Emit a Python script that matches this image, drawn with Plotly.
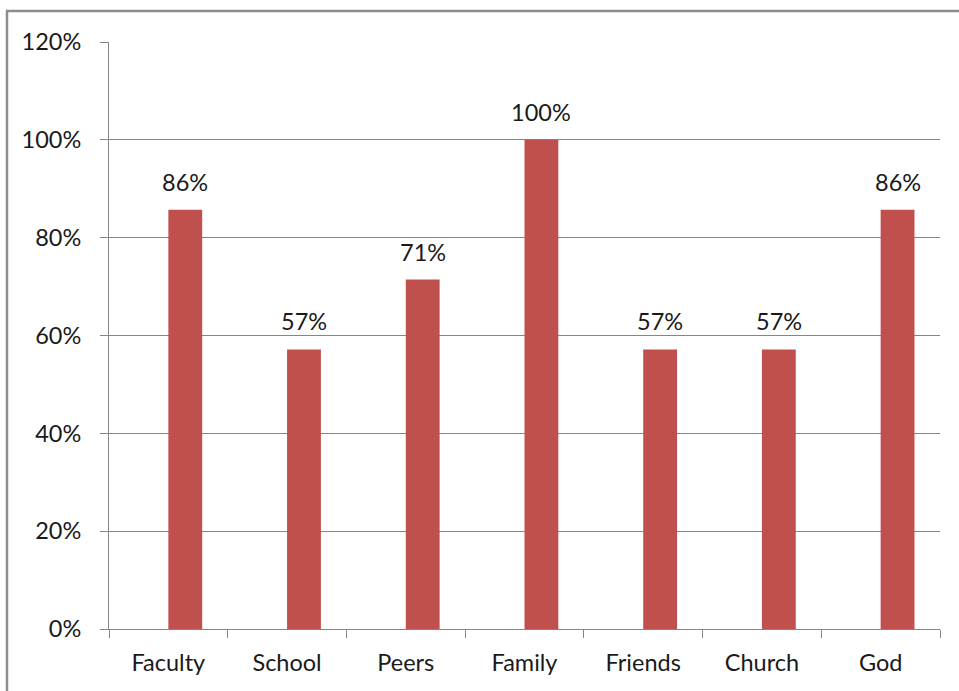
import plotly.graph_objects as go

categories = ["Faculty", "School", "Peers", "Family", "Friends", "Church", "God"]
values = [6/7, 4/7, 5/7, 1.0, 4/7, 4/7, 6/7]
y_ticks = [0, 0.2, 0.4, 0.6, 0.8, 1.0, 1.2]
y_tick_labels = ["0%", "20%", "40%", "60%", "80%", "100%", "120%"]

BAR = "#C0504D"
GRID = "#868686"
FONT = "Lato, Open Sans, sans-serif"
FS = 23.5

fig = go.Figure()
fig.add_trace(go.Bar(
    x=categories, y=values,
    marker=dict(color=BAR, line=dict(width=0)),
    width=0.285, offset=0,
    hoverinfo="skip",
))

for i, (c, v) in enumerate(zip(categories, values)):
    fig.add_annotation(
        x=i + 0.1425, y=v, text=f"{round(v*100):d}%",
        showarrow=False, yanchor="bottom", yshift=12,
        font=dict(family=FONT, size=FS, color="#1a1a1a"),
    )

L, R, T, B = 109, 19, 42, 62
W, H = 959, 691
pw = W - L - R
ph = H - T - B

fig.update_layout(
    width=W, height=H,
    margin=dict(l=L, r=R, t=T, b=B, pad=0),
    paper_bgcolor="white", plot_bgcolor="white",
    showlegend=False,
    font=dict(family=FONT, size=FS, color="#1a1a1a"),
    xaxis=dict(
        showgrid=False, showline=True, linecolor=GRID, linewidth=1,
        ticks="outside", tickson="boundaries", ticklen=8, tickcolor=GRID,
        tickfont=dict(family=FONT, size=FS, color="#1a1a1a"),
        ticklabelstandoff=13,
        range=[-0.5, 6.5],
    ),
    yaxis=dict(
        range=[0, 1.2], tickvals=y_ticks, ticktext=y_tick_labels,
        showgrid=True, gridcolor=GRID, gridwidth=1,
        showline=True, linecolor=GRID, linewidth=1,
        ticks="outside", ticklen=8, tickcolor=GRID,
        tickfont=dict(family=FONT, size=FS, color="#1a1a1a"),
        ticklabelstandoff=14,
        zeroline=False,
    ),
    shapes=[dict(
        type="rect", xref="paper", yref="paper",
        x0=(7 - L) / pw, x1=(W + 20 - L) / pw,
        y0=-(H + 20 - (T + ph)) / ph, y1=((T + ph) - 11) / ph,
        line=dict(color="#8c8c8c", width=2.5), layer="above",
    )],
)

fig.write_html("out.html")
